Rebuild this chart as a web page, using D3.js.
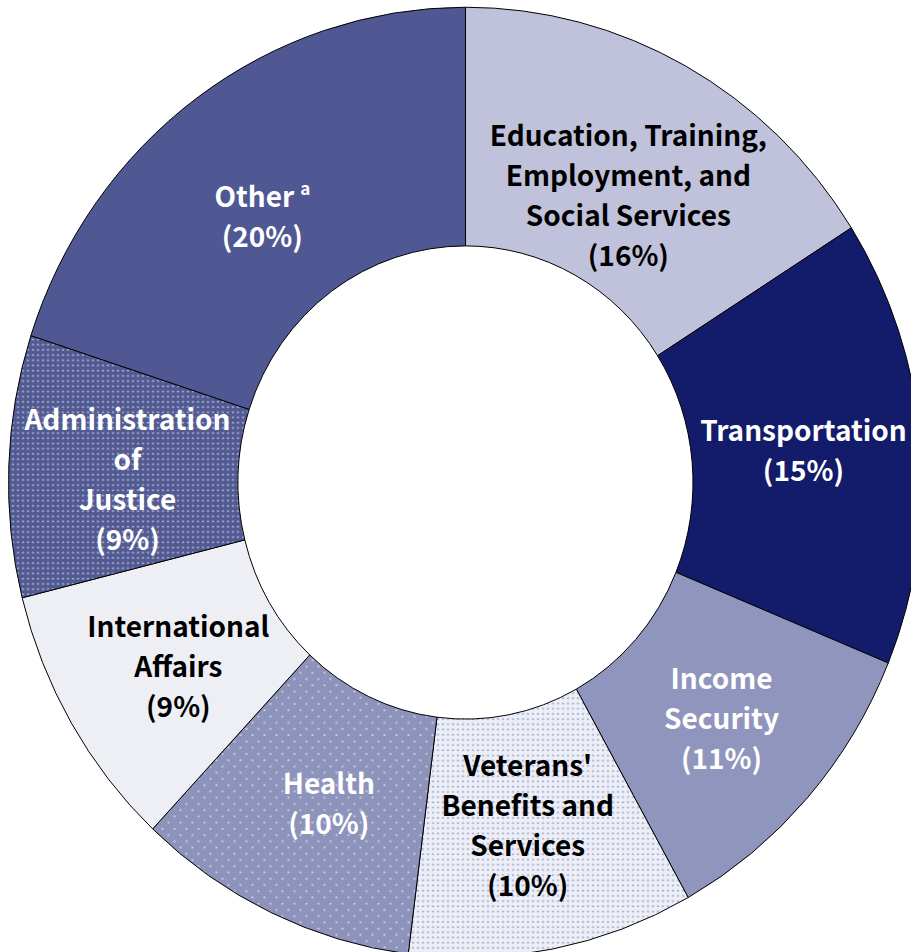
<!DOCTYPE html>
<html>
<head>
<meta charset="utf-8">
<script src="https://cdn.jsdelivr.net/npm/d3@7"></script>
<style>
html,body{margin:0;padding:0;background:#fff;overflow:hidden;}
svg{display:block;}
text{font-family:"Noto Sans CJK KR","Noto Sans",sans-serif;font-weight:700;}
</style>
</head>
<body>
<svg id="chart" width="911" height="952"></svg>
<script>
// Data
const categories = [
  "Education, Training, Employment, and Social Services",
  "Transportation",
  "Income Security",
  "Veterans' Benefits and Services",
  "Health",
  "International Affairs",
  "Administration of Justice",
  "Other"
];
const shares = [16.0, 15.2, 10.7, 10.1, 10.0, 9.1, 8.9, 20.0];
const percentLabels = ["16%", "15%", "11%", "10%", "10%", "9%", "9%", "20%"];
const labelLines = [
  ["Education, Training,", "Employment, and", "Social Services"],
  ["Transportation"],
  ["Income", "Security"],
  ["Veterans'", "Benefits and", "Services"],
  ["Health"],
  ["International", "Affairs"],
  ["Administration", "of", "Justice"],
  ["Other"]
];
const footnoteMarks = ["", "", "", "", "", "", "", "a"];

// Styles
const fills = ["#c0c1da", "#131c6b", "#9095bd", "url(#patVet)", "url(#patHealth)", "#eeeff5", "url(#patAdmin)", "#4f5892"];
const textColors = ["#000", "#fff", "#fff", "#000", "#fff", "#000", "#fff", "#fff"];
const labelNudge = [[-2, 25], [-3, 0], [0, 0], [-3, -6], [9, -1], [8, 4], [4, 10], [-2, 22]];

const svg = d3.select("#chart");
const defs = svg.append("defs");
function dotPattern(id, size, bg, dot, r, stagger) {
  const p = defs.append("pattern").attr("id", id).attr("patternUnits", "userSpaceOnUse")
    .attr("width", size).attr("height", size);
  p.append("rect").attr("width", size).attr("height", size).attr("fill", bg);
  p.append("circle").attr("cx", size / 4).attr("cy", size / 4).attr("r", r).attr("fill", dot);
  if (stagger) p.append("circle").attr("cx", size * 3 / 4).attr("cy", size * 3 / 4).attr("r", r).attr("fill", dot);
  else {
    p.append("circle").attr("cx", size * 3 / 4).attr("cy", size / 4).attr("r", r).attr("fill", dot);
    p.append("circle").attr("cx", size / 4).attr("cy", size * 3 / 4).attr("r", r).attr("fill", dot);
    p.append("circle").attr("cx", size * 3 / 4).attr("cy", size * 3 / 4).attr("r", r).attr("fill", dot);
  }
}
dotPattern("patAdmin", 10, "#525a92", "#c9cce6", 0.9, false);
dotPattern("patHealth", 12, "#8e93bb", "#dfe1f1", 0.9, true);
dotPattern("patVet", 10, "#edeff6", "#8d93c6", 0.9, false);

const cx = 465.5, cy = 482.5, rOuter = 457, rInner = 227.5, sy = 1.04;

const pie = d3.pie().value(d => d).sort(null);
const arcs = pie(shares);
const arc = d3.arc().innerRadius(rInner).outerRadius(rOuter);

const g = svg.append("g").attr("transform", `translate(${cx},${cy}) scale(1,${sy})`);
g.selectAll("path.slice").data(arcs).enter().append("path")
  .attr("class", "slice")
  .attr("d", arc)
  .attr("fill", (d, i) => fills[i])
  .attr("stroke", "#000")
  .attr("stroke-width", 1)
  .attr("vector-effect", "non-scaling-stroke");

// Labels
const fs = 28, lh = 40;
const lg = svg.append("g");
arcs.forEach((d, i) => {
  const c = arc.centroid(d);
  const x = cx + c[0] + labelNudge[i][0];
  const y = cy + c[1] * sy + labelNudge[i][1];
  const lines = labelLines[i].concat(["(" + percentLabels[i] + ")"]);
  const n = lines.length;
  const t = lg.append("text").attr("text-anchor", "middle").attr("fill", textColors[i])
    .attr("font-size", fs);
  lines.forEach((ln, k) => {
    const ts = t.append("tspan").attr("x", x).attr("y", y + (k - (n - 1) / 2) * lh + fs * 0.36).text(ln);
    if (k === 0 && footnoteMarks[i]) {
      ts.append("tspan").attr("font-size", 17).attr("dx", 6).attr("dy", -12).text(footnoteMarks[i]);
    }
  });
});
</script>
</body>
</html>
